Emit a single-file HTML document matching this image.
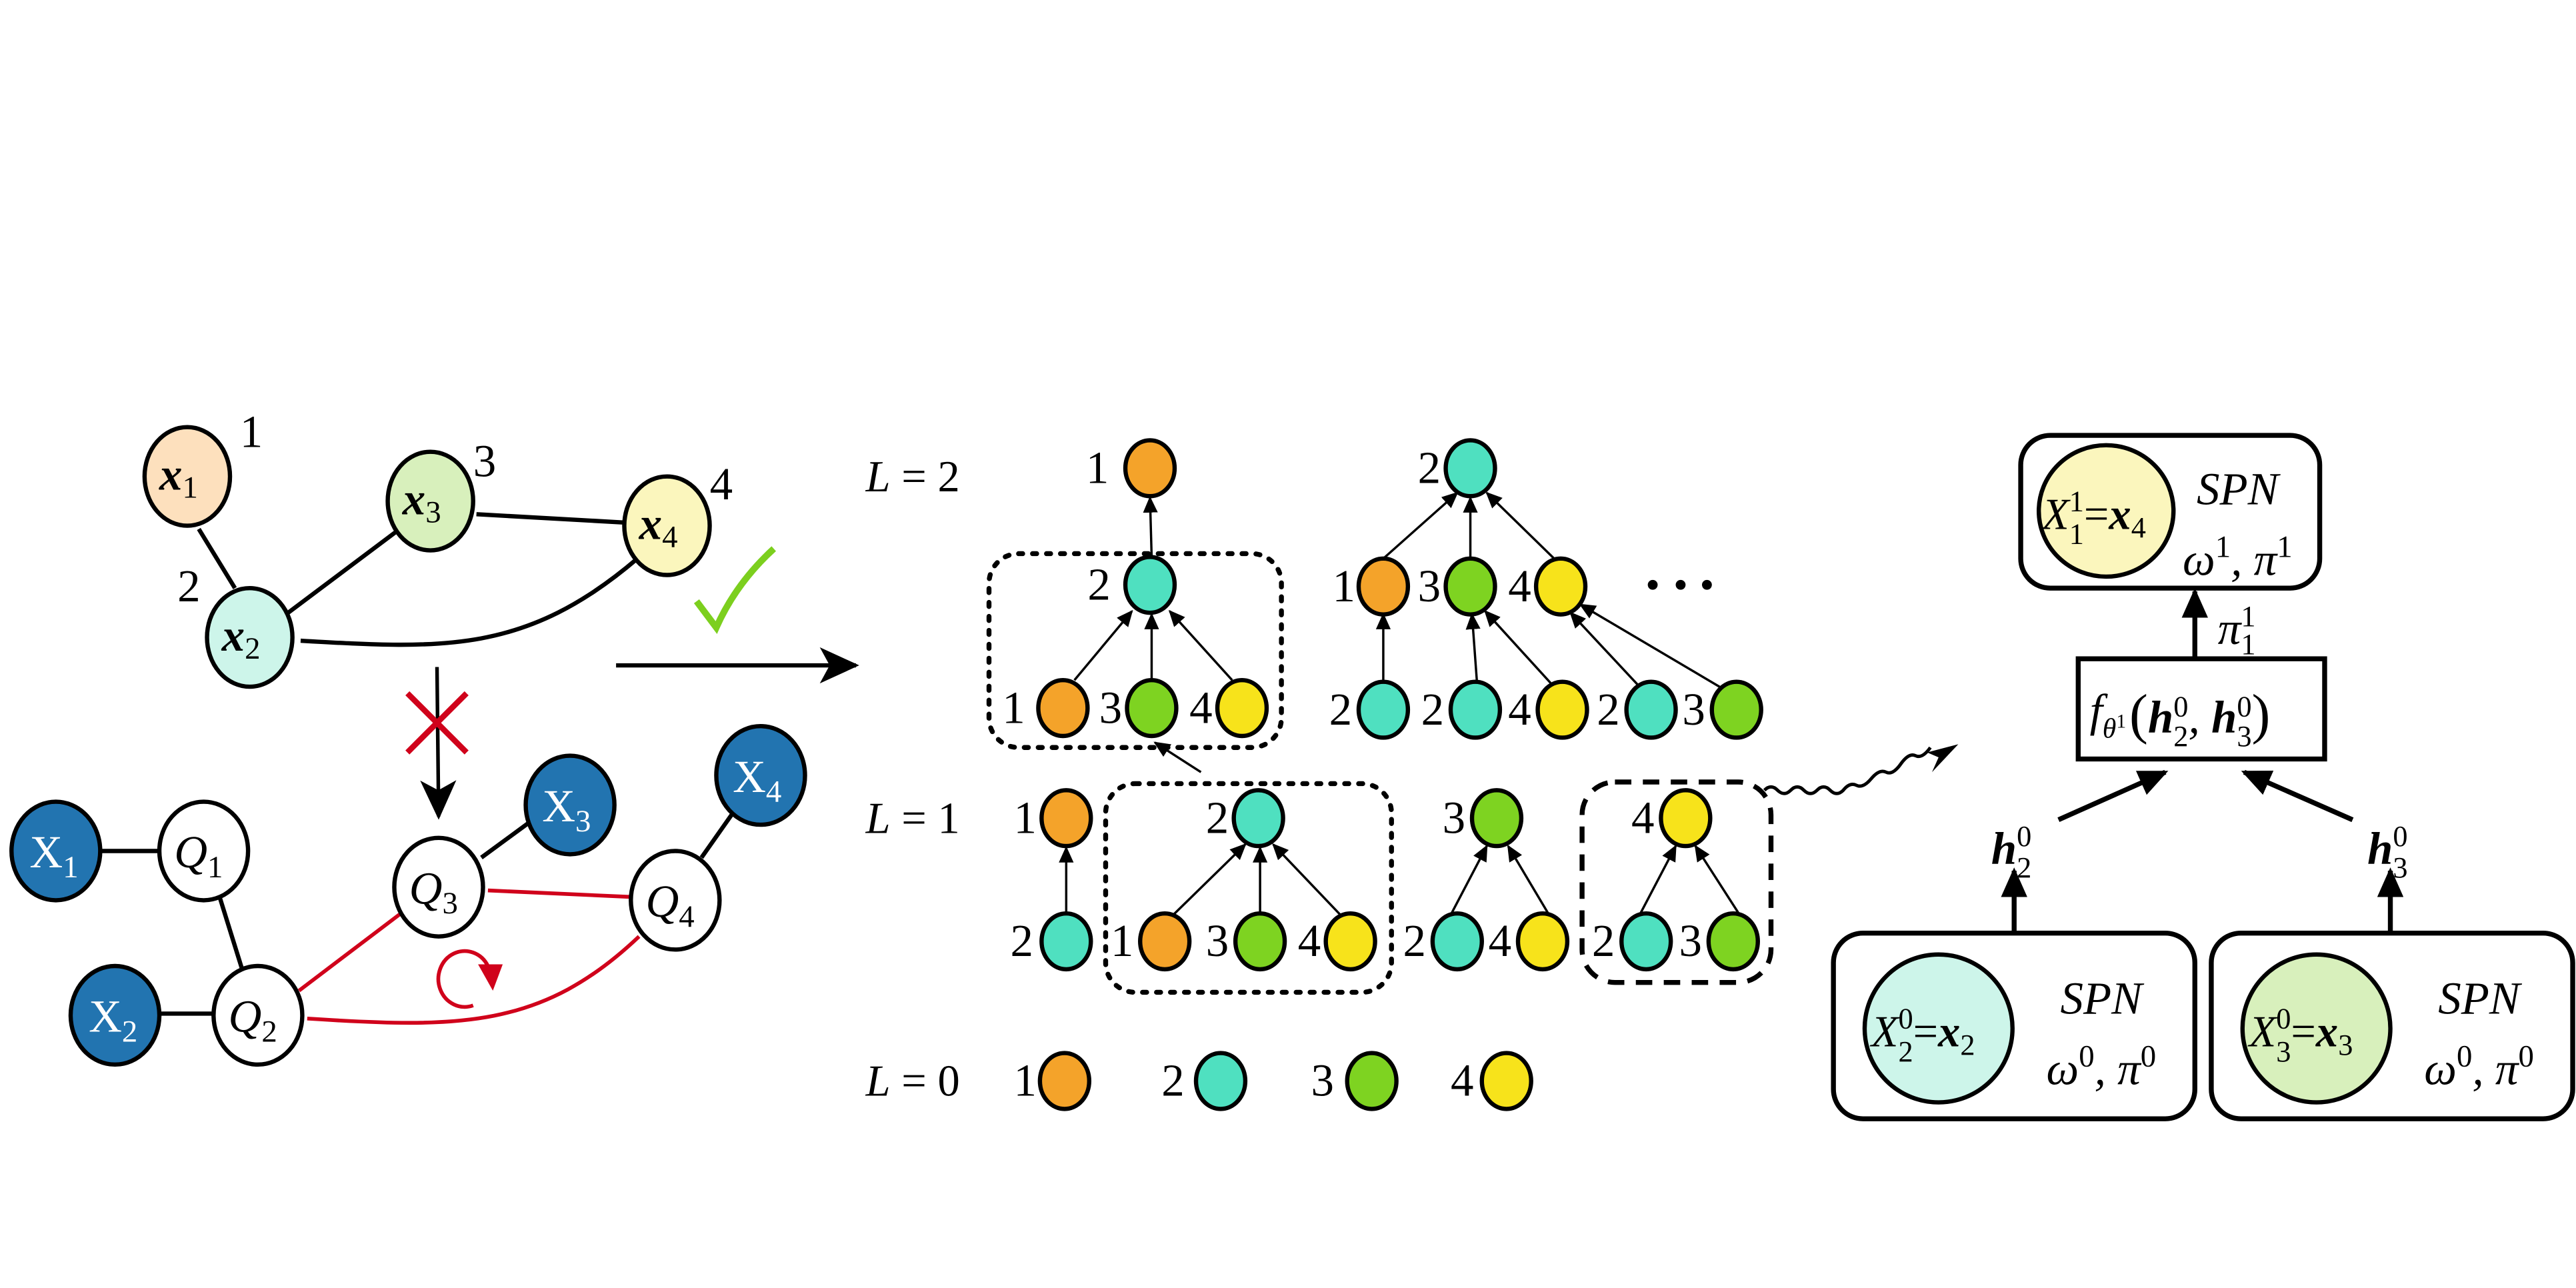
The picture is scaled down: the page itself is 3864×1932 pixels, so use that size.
<!DOCTYPE html>
<html><head><meta charset="utf-8"><style>
html,body{margin:0;padding:0;background:#fff}
svg{display:block;font-family:"Liberation Serif","DejaVu Serif",serif}
svg text{font-family:"Liberation Serif","DejaVu Serif",serif}
.n{font-size:28px}
.m{font-style:italic}
</style></head><body>
<svg width="3864" height="1932" viewBox="0 0 1568 784" preserveAspectRatio="none" xmlns="http://www.w3.org/2000/svg" font-family="Liberation Serif, DejaVu Serif, serif">
<defs>
<marker id="a" markerWidth="10" markerHeight="10" refX="9" refY="5" orient="auto" markerUnits="userSpaceOnUse" viewBox="0 0 10 10"><path d="M0,0.5 L10,5 L0,9.5 z" fill="#000"/></marker>
<marker id="b" markerWidth="18" markerHeight="16" refX="16" refY="8" orient="auto" markerUnits="userSpaceOnUse" viewBox="0 0 18 16"><path d="M0,0 L18,8 L0,16 z" fill="#000"/></marker>
<marker id="c" markerWidth="24" markerHeight="22" refX="22" refY="11" orient="auto" markerUnits="userSpaceOnUse" viewBox="0 0 24 22"><path d="M0,0 L24,11 L0,22 L6,11 z" fill="#000"/></marker>
</defs>

<!-- top-left graph -->
<g stroke="#000" stroke-width="2.6" fill="none">
<line x1="121" y1="322" x2="143" y2="358"/>
<line x1="174" y1="374" x2="242" y2="323"/>
<line x1="290" y1="313" x2="379" y2="318"/>
<path d="M183,390 C270,395 320,398 388,340"/>
</g>
<g stroke="#000" stroke-width="2.6">
<ellipse cx="114" cy="290" rx="26" ry="30" fill="#fde0bd"/>
<ellipse cx="262" cy="305" rx="26" ry="30" fill="#d8f0bc"/>
<ellipse cx="406" cy="320" rx="26" ry="30" fill="#fbf6bd"/>
<ellipse cx="152" cy="388" rx="26" ry="30" fill="#cdf5ea"/>
</g>
<g class="n">
<text x="146" y="272">1</text><text x="288" y="290">3</text><text x="432" y="304">4</text><text x="108" y="366">2</text>
</g>
<g class="m" font-size="28" font-weight="bold">
<text x="97" y="298">x<tspan font-size="19" font-style="normal" font-weight="normal" dy="5">1</tspan></text>
<text x="245" y="313">x<tspan font-size="19" font-style="normal" font-weight="normal" dy="5">3</tspan></text>
<text x="389" y="328">x<tspan font-size="19" font-style="normal" font-weight="normal" dy="5">4</tspan></text>
<text x="135" y="396">x<tspan font-size="19" font-style="normal" font-weight="normal" dy="5">2</tspan></text>
</g>
<path d="M424,366 L436,382 Q448,355 471,334" stroke="#7ccf1e" stroke-width="4" fill="none"/>
<line x1="375" y1="405" x2="521" y2="405" stroke="#000" stroke-width="2.6" marker-end="url(#c)"/>
<line x1="266" y1="406" x2="267" y2="497" stroke="#000" stroke-width="2.2" marker-end="url(#c)"/>
<g stroke="#d0021b" stroke-width="3.5"><line x1="248" y1="422" x2="284" y2="458"/><line x1="284" y1="422" x2="248" y2="458"/></g>

<!-- bottom-left graph -->
<g stroke="#000" stroke-width="2.6" fill="none">
<line x1="60" y1="518" x2="98" y2="518"/>
<line x1="134" y1="547" x2="148" y2="592"/>
<line x1="96" y1="617" x2="131" y2="617"/>
<line x1="293" y1="522" x2="323" y2="500"/>
<line x1="427" y1="522" x2="446" y2="495"/>
</g>
<g stroke="#d0021b" stroke-width="2.3" fill="none">
<line x1="182" y1="603" x2="244" y2="556"/>
<line x1="297" y1="542" x2="385" y2="546"/>
<path d="M187,620 C280,626 330,626 389,570"/>
<path d="M288,612 A16,17 0 1 1 297,588" />
</g>
<path d="M291,587 L306,587 L300,603 z" fill="#d0021b"/>
<g stroke="#000" stroke-width="2.6">
<ellipse cx="34" cy="518" rx="27" ry="30" fill="#2274b0"/>
<ellipse cx="124" cy="518" rx="27" ry="30" fill="#fff"/>
<ellipse cx="70" cy="618" rx="27" ry="30" fill="#2274b0"/>
<ellipse cx="157" cy="618" rx="27" ry="30" fill="#fff"/>
<ellipse cx="267" cy="540" rx="27" ry="30" fill="#fff"/>
<ellipse cx="347" cy="490" rx="27" ry="30" fill="#2274b0"/>
<ellipse cx="463" cy="472" rx="27" ry="30" fill="#2274b0"/>
<ellipse cx="411" cy="548" rx="27" ry="30" fill="#fff"/>
</g>
<g font-size="28">
<text x="18" y="528" fill="#fff">X<tspan font-size="19" dy="6">1</tspan></text>
<text x="54" y="628" fill="#fff">X<tspan font-size="19" dy="6">2</tspan></text>
<text x="330" y="500" fill="#fff">X<tspan font-size="19" dy="6">3</tspan></text>
<text x="446" y="482" fill="#fff">X<tspan font-size="19" dy="6">4</tspan></text>
<text x="106" y="528" class="m">Q<tspan font-size="19" font-style="normal" dy="6">1</tspan></text>
<text x="139" y="628" class="m">Q<tspan font-size="19" font-style="normal" dy="6">2</tspan></text>
<text x="249" y="550" class="m">Q<tspan font-size="19" font-style="normal" dy="6">3</tspan></text>
<text x="393" y="558" class="m">Q<tspan font-size="19" font-style="normal" dy="6">4</tspan></text>
</g>

<!-- middle: levels -->
<g font-size="27">
<text x="527" y="299"><tspan class="m">L</tspan> = 2</text>
<text x="527" y="507"><tspan class="m">L</tspan> = 1</text>
<text x="527" y="667"><tspan class="m">L</tspan> = 0</text>
</g>
<g stroke="#000" stroke-width="3" fill="none" stroke-dasharray="2.5,6" stroke-linecap="round">
<rect x="602" y="337" width="178" height="118" rx="18"/>
<rect x="673" y="477" width="174" height="127" rx="18"/>
</g>
<rect x="963" y="476" width="115" height="122" rx="20" stroke="#000" stroke-width="3" fill="none" stroke-dasharray="10,7"/>
<g stroke="#000" stroke-width="1.4" marker-end="url(#a)">
<line x1="701" y1="339" x2="700" y2="303"/>
<line x1="654" y1="414" x2="689" y2="372"/>
<line x1="701" y1="413" x2="701" y2="374"/>
<line x1="750" y1="414" x2="712" y2="372"/>
<line x1="842" y1="340" x2="887" y2="300"/>
<line x1="895" y1="339" x2="895" y2="303"/>
<line x1="946" y1="340" x2="905" y2="300"/>
<line x1="842" y1="415" x2="842" y2="374"/>
<line x1="899" y1="415" x2="896" y2="374"/>
<line x1="945" y1="417" x2="904" y2="372"/>
<line x1="998" y1="418" x2="956" y2="373"/>
<line x1="1050" y1="420" x2="962" y2="368"/>
<line x1="731" y1="470" x2="703" y2="452"/>
<line x1="649" y1="556" x2="649" y2="516"/>
<line x1="714" y1="557" x2="758" y2="514"/>
<line x1="767" y1="556" x2="767" y2="516"/>
<line x1="816" y1="557" x2="775" y2="514"/>
<line x1="883" y1="557" x2="905" y2="515"/>
<line x1="943" y1="557" x2="918" y2="515"/>
<line x1="998" y1="557" x2="1020" y2="515"/>
<line x1="1059" y1="557" x2="1032" y2="515"/>
</g>
<g stroke="#000" stroke-width="2.6">
<ellipse cx="700" cy="285" rx="15" ry="17" fill="#f4a32a"/>
<ellipse cx="700" cy="356" rx="15" ry="17" fill="#4fe0c0"/>
<ellipse cx="647" cy="431" rx="15" ry="17" fill="#f4a32a"/>
<ellipse cx="701" cy="431" rx="15" ry="17" fill="#7ed321"/>
<ellipse cx="756" cy="431" rx="15" ry="17" fill="#f7e31b"/>
<ellipse cx="895" cy="285" rx="15" ry="17" fill="#4fe0c0"/>
<ellipse cx="842" cy="357" rx="15" ry="17" fill="#f4a32a"/>
<ellipse cx="895" cy="357" rx="15" ry="17" fill="#7ed321"/>
<ellipse cx="950" cy="357" rx="15" ry="17" fill="#f7e31b"/>
<ellipse cx="842" cy="432" rx="15" ry="17" fill="#4fe0c0"/>
<ellipse cx="898" cy="432" rx="15" ry="17" fill="#4fe0c0"/>
<ellipse cx="951" cy="432" rx="15" ry="17" fill="#f7e31b"/>
<ellipse cx="1005" cy="432" rx="15" ry="17" fill="#4fe0c0"/>
<ellipse cx="1057" cy="432" rx="15" ry="17" fill="#7ed321"/>
<ellipse cx="649" cy="498" rx="15" ry="17" fill="#f4a32a"/>
<ellipse cx="649" cy="573" rx="15" ry="17" fill="#4fe0c0"/>
<ellipse cx="766" cy="498" rx="15" ry="17" fill="#4fe0c0"/>
<ellipse cx="709" cy="573" rx="15" ry="17" fill="#f4a32a"/>
<ellipse cx="767" cy="573" rx="15" ry="17" fill="#7ed321"/>
<ellipse cx="822" cy="573" rx="15" ry="17" fill="#f7e31b"/>
<ellipse cx="911" cy="498" rx="15" ry="17" fill="#7ed321"/>
<ellipse cx="887" cy="573" rx="15" ry="17" fill="#4fe0c0"/>
<ellipse cx="939" cy="573" rx="15" ry="17" fill="#f7e31b"/>
<ellipse cx="1026" cy="498" rx="15" ry="17" fill="#f7e31b"/>
<ellipse cx="1002" cy="573" rx="15" ry="17" fill="#4fe0c0"/>
<ellipse cx="1055" cy="573" rx="15" ry="17" fill="#7ed321"/>
<ellipse cx="648" cy="658" rx="15" ry="17" fill="#f4a32a"/>
<ellipse cx="743" cy="658" rx="15" ry="17" fill="#4fe0c0"/>
<ellipse cx="835" cy="658" rx="15" ry="17" fill="#7ed321"/>
<ellipse cx="917" cy="658" rx="15" ry="17" fill="#f7e31b"/>
</g>
<g class="n" text-anchor="middle">
<text x="668" y="294">1</text><text x="669" y="365">2</text>
<text x="617" y="440">1</text><text x="676" y="440">3</text><text x="731" y="440">4</text>
<text x="870" y="294">2</text>
<text x="818" y="366">1</text><text x="870" y="366">3</text><text x="925" y="366">4</text>
<text x="816" y="441">2</text><text x="872" y="441">2</text><text x="925" y="441">4</text><text x="979" y="441">2</text><text x="1031" y="441">3</text>
<text x="624" y="507">1</text><text x="622" y="582">2</text>
<text x="741" y="507">2</text>
<text x="683" y="582">1</text><text x="741" y="582">3</text><text x="797" y="582">4</text>
<text x="885" y="507">3</text><text x="861" y="582">2</text><text x="913" y="582">4</text>
<text x="1000" y="507">4</text><text x="976" y="582">2</text><text x="1029" y="582">3</text>
<text x="624" y="667">1</text><text x="714" y="667">2</text><text x="805" y="667">3</text><text x="890" y="667">4</text>
</g>
<g fill="#000"><circle cx="1006" cy="356" r="3"/><circle cx="1023" cy="356" r="3"/><circle cx="1039" cy="356" r="3"/></g>

<!-- wavy arrow -->
<path d="M1074,481 q4,-4 8,0 t8,0 t8,0 t8,0 t8,0 t8,0 q4,-5 8,-3 t9,-4 t9,-4 t9,-5 t9,-5 t9,-5" stroke="#000" stroke-width="2" fill="none"/>
<path d="M1192,453 L1173,458 L1180,461 L1176,470 z" fill="#000"/>

<!-- right panel -->
<g stroke="#000" stroke-width="3" fill="none">
<rect x="1230" y="265" width="182" height="93" rx="18" fill="#fff"/>
<rect x="1116" y="568" width="220" height="113" rx="18" fill="#fff"/>
<rect x="1346" y="568" width="220" height="113" rx="18" fill="#fff"/>
<rect x="1265" y="401" width="150" height="61" fill="#fff"/>
</g>
<g stroke="#000" stroke-width="2.6">
<ellipse cx="1282" cy="311" rx="41" ry="40" fill="#fbf6bd"/>
<ellipse cx="1180" cy="626" rx="45" ry="45" fill="#cdf5ea"/>
<ellipse cx="1410" cy="626" rx="45" ry="45" fill="#d8f0bc"/>
</g>
<g stroke="#000" stroke-width="3" marker-end="url(#b)">
<line x1="1336" y1="401" x2="1336" y2="360"/>
<line x1="1226" y1="568" x2="1226" y2="530"/>
<line x1="1455" y1="568" x2="1455" y2="530"/>
<line x1="1253" y1="499" x2="1318" y2="470"/>
<line x1="1432" y1="499" x2="1366" y2="470"/>
</g>
<g font-size="27">
<text x="1243" y="322" class="m">X<tspan font-size="18" font-style="normal" dy="-11">1</tspan><tspan font-size="18" font-style="normal" dx="-9" dy="20">1</tspan><tspan font-style="normal" dy="-9">=</tspan><tspan font-weight="bold">x</tspan><tspan font-size="18" font-style="normal" dy="5">4</tspan></text>
<text x="1139" y="637" class="m">X<tspan font-size="18" font-style="normal" dy="-11">0</tspan><tspan font-size="18" font-style="normal" dx="-9" dy="20">2</tspan><tspan font-style="normal" dy="-9">=</tspan><tspan font-weight="bold">x</tspan><tspan font-size="18" font-style="normal" dy="5">2</tspan></text>
<text x="1369" y="637" class="m">X<tspan font-size="18" font-style="normal" dy="-11">0</tspan><tspan font-size="18" font-style="normal" dx="-9" dy="20">3</tspan><tspan font-style="normal" dy="-9">=</tspan><tspan font-weight="bold">x</tspan><tspan font-size="18" font-style="normal" dy="5">3</tspan></text>
</g>
<g font-size="28" class="m" text-anchor="middle">
<text x="1362" y="307">SPN</text>
<text x="1362" y="350">ω<tspan font-size="19" font-style="normal" dy="-11">1</tspan><tspan dy="11">, π</tspan><tspan font-size="19" font-style="normal" dy="-11">1</tspan></text>
<text x="1279" y="617">SPN</text>
<text x="1279" y="660">ω<tspan font-size="19" font-style="normal" dy="-11">0</tspan><tspan dy="11">, π</tspan><tspan font-size="19" font-style="normal" dy="-11">0</tspan></text>
<text x="1509" y="617">SPN</text>
<text x="1509" y="660">ω<tspan font-size="19" font-style="normal" dy="-11">0</tspan><tspan dy="11">, π</tspan><tspan font-size="19" font-style="normal" dy="-11">0</tspan></text>
</g>
<g font-size="28" class="m">
<text x="1350" y="392">π<tspan font-size="18" font-style="normal" dy="-11">1</tspan><tspan font-size="18" font-style="normal" dx="-9" dy="17">1</tspan></text>
<text x="1212" y="526" font-weight="bold">h<tspan font-size="18" font-style="normal" font-weight="normal" dy="-11">0</tspan><tspan font-size="18" font-style="normal" font-weight="normal" dx="-9" dy="19">2</tspan></text>
<text x="1441" y="526" font-weight="bold">h<tspan font-size="18" font-style="normal" font-weight="normal" dy="-11">0</tspan><tspan font-size="18" font-style="normal" font-weight="normal" dx="-9" dy="19">3</tspan></text>
<text x="1272" y="442">f<tspan font-size="17" dy="7">θ</tspan><tspan font-size="12" font-style="normal" dy="-6">1</tspan><tspan font-style="normal" font-size="34" dy="3" dx="2">(</tspan><tspan font-weight="bold">h</tspan><tspan font-size="18" font-style="normal" dy="-10">0</tspan><tspan font-size="18" font-style="normal" dx="-9" dy="18">2</tspan><tspan dy="-8">, </tspan><tspan font-weight="bold">h</tspan><tspan font-size="18" font-style="normal" dy="-10">0</tspan><tspan font-size="18" font-style="normal" dx="-9" dy="18">3</tspan><tspan font-style="normal" font-size="34" dy="-8">)</tspan></text>
</g>
</svg>
</body></html>
